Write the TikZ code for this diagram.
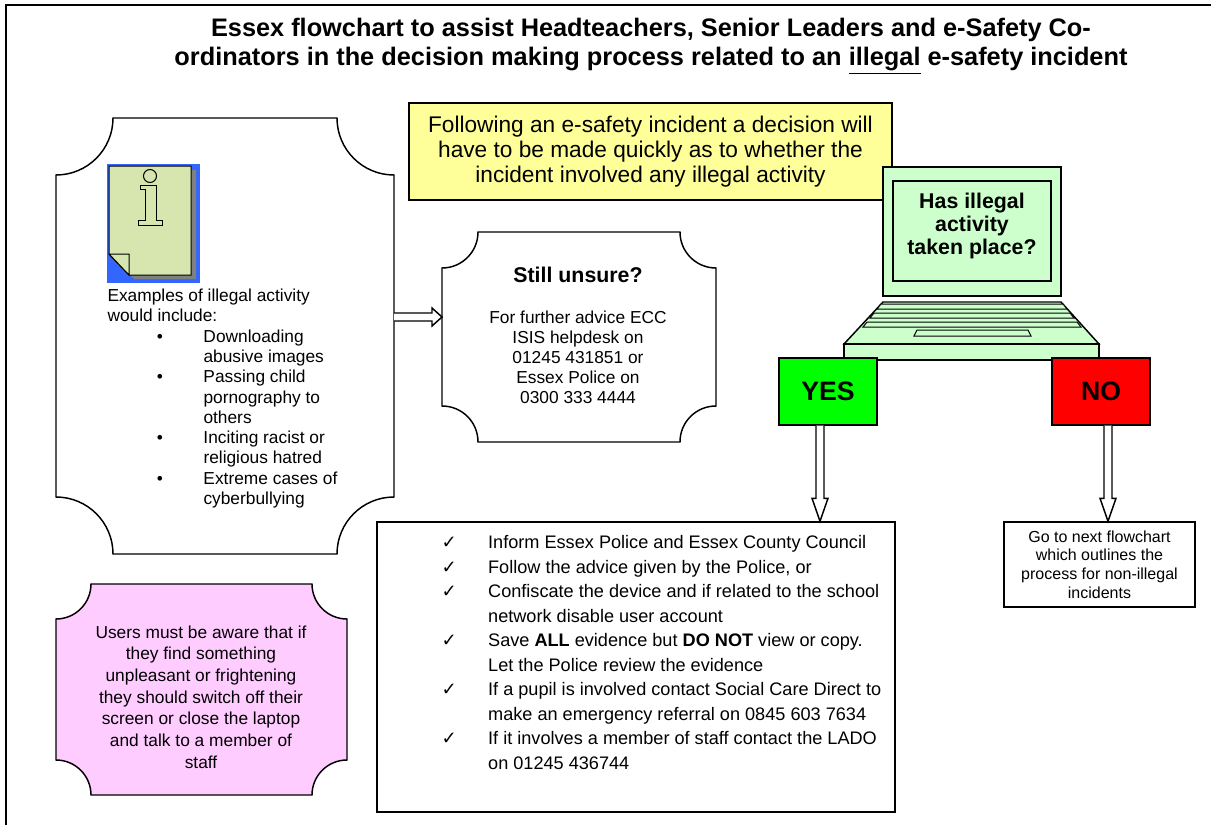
\documentclass[tikz,border=0pt]{standalone}
\usepackage{fontspec}
\setmainfont{Liberation Sans}
\newfontfamily\symfont{DejaVu Sans}
\usetikzlibrary{calc}

\definecolor{noteyellow}{HTML}{FFFF99}
\definecolor{laptopgreen}{HTML}{CCFFCC}
\definecolor{papergreen}{HTML}{D7E6AF}
\definecolor{iconblue}{HTML}{3366FF}
\definecolor{yesgreen}{HTML}{00FF00}
\definecolor{nored}{HTML}{FF0000}
\definecolor{warnpink}{HTML}{FFCCFF}

\tikzset{every picture/.style={line width=0.75pt}}
\tikzset{
  plainbox/.style={draw, line width=1.1pt, inner sep=0pt},
  answerbox/.style={plainbox, minimum width=73.5pt, minimum height=50.25pt, font=\bfseries\fontsize{20}{22}\selectfont},
  hollowarrow/.style={draw, fill=white, line width=1.1pt, line join=miter},
  outline/.style={draw, line width=1.1pt}
}

\begin{document}
\begin{tikzpicture}[x=0.75pt,y=0.75pt,yscale=-1,xscale=1]
	\useasboundingbox (0,0) rectangle (1211,825);

	%Shape: Frame
	\draw[line width=1.5pt] (6,825) -- (6,5) -- (1211,5);

	% Text Node
	\node[font=\bfseries\fontsize{19}{22}\selectfont, align=center] (title) at (651,46) {Essex flowchart to assist Headteachers, Senior Leaders and e-Safety Co-\\ordinators in the decision making process related to an \underline{illegal} e-safety incident};

	%Shape: Plaque [id:examples]
	\draw[outline] (113,118) -- (337,118) .. controls (337,149.5) and (362.5,175) .. (394,175) -- (394,497) .. controls (362.5,497) and (337,522.5) .. (337,554) -- (113,554) .. controls (113,522.5) and (87.5,497) .. (56,497) -- (56,175) .. controls (87.5,175) and (113,149.5) .. (113,118) -- cycle;

	%Shape: Info icon
	\fill[iconblue] (107,164) rectangle (200,283);
	\fill[gray] (114,170) -- (196,170) -- (196,279) -- (134,279) -- (114,258) -- cycle;
	\draw[fill=papergreen] (109,166) -- (191,166) -- (191,275) -- (129,275) -- (109,254) -- cycle;
	\draw[fill=papergreen] (109,254) -- (129,254) -- (129,275) -- cycle;
	\draw[fill=papergreen] (150,176) circle (6.5);
	\draw[fill=papergreen] (140,185) -- (156,185) -- (156,220) -- (162,220) -- (162,225) -- (138,225) -- (138,220) -- (145,220) -- (145,189) -- (140,189) -- cycle;

	% Text Node
	\node[anchor=north west, inner sep=0pt, font=\fontsize{13}{15.2}\selectfont] (examples) at (107,287) {\begin{tabular}{@{}p{72pt}@{}l@{}}
		\multicolumn{2}{@{}l@{}}{Examples of illegal activity}\\
		\multicolumn{2}{@{}l@{}}{would include:}\\
		\hspace*{37pt}• & Downloading\\
		 & abusive images\\
		\hspace*{37pt}• & Passing child\\
		 & pornography to\\
		 & others\\
		\hspace*{37pt}• & Inciting racist or\\
		 & religious hatred\\
		\hspace*{37pt}• & Extreme cases of\\
		 & cyberbullying
	\end{tabular}};

	%Shape: Plaque [id:unsure]
	\draw[outline] (478,232) -- (680,232) .. controls (680,251.9) and (696.1,268) .. (716,268) -- (716,406) .. controls (696.1,406) and (680,421.9) .. (680,442) -- (478,442) .. controls (478,421.9) and (461.9,406) .. (442,406) -- (442,268) .. controls (461.9,268) and (478,251.9) .. (478,232) -- cycle;
	% Text Node
	\node[font=\bfseries\fontsize{16}{18}\selectfont] (unsure) at (578,275) {Still unsure?};
	% Text Node
	\node[align=center, font=\fontsize{13}{15}\selectfont] (advice) at (578,357) {For further advice ECC\\ISIS helpdesk on\\01245 431851 or\\Essex Police on\\0300 333 4444};

	%Hollow arrow [examples -> unsure]
	\coordinate (leftside) at (394,317);
	\coordinate (unsureside) at (442,317);
	\draw[hollowarrow] ($(leftside)+(0,-4)$) -- ($(unsureside)+(-10,-4)$) -- ($(unsureside)+(-10,-9)$) -- (unsureside) -- ($(unsureside)+(-10,9)$) -- ($(unsureside)+(-10,4)$) -- ($(leftside)+(0,4)$);

	%Shape: Plaque [id:warning]
	\draw[outline, fill=warnpink] (91,584) -- (312,584) .. controls (312,603.3) and (327.7,619) .. (347,619) -- (347,760) .. controls (327.7,760) and (312,775.7) .. (312,795) -- (91,795) .. controls (91,775.7) and (75.3,760) .. (56,760) -- (56,619) .. controls (75.3,619) and (91,603.3) .. (91,584) -- cycle;
	% Text Node
	\node[align=center, font=\fontsize{13}{16.3}\selectfont] (warning) at (201,697) {Users must be aware that if\\they find something\\unpleasant or frightening\\they should switch off their\\screen or close the laptop\\and talk to a member of\\staff};

	% Text Node
	\node[plainbox, fill=noteyellow, minimum width=362.25pt, minimum height=72.75pt, align=center, font=\fontsize{17}{18.75}\selectfont] (intro) at (650.5,151.5) {Following an e-safety incident a decision will\\have to be made quickly as to whether the\\incident involved any illegal activity};

	%Shape: Laptop
	\draw[outline, fill=laptopgreen] (883,167) rectangle (1061,296);
	\draw[outline, fill=laptopgreen] (893,181) rectangle (1051,281);
	\draw[outline, fill=laptopgreen] (883,302) -- (1061,302) -- (1099,344) -- (844,344) -- cycle;
	\draw[outline, fill=laptopgreen] (844,344) rectangle (1099,360);
	\draw[fill=laptopgreen] (881,304) -- (1063,304) -- (1067,309) -- (877,309) -- cycle;
	\draw[fill=laptopgreen] (874,313) -- (1070,313) -- (1074,318) -- (870,318) -- cycle;
	\draw[fill=laptopgreen] (867,322) -- (1077,322) -- (1081,327) -- (863,327) -- cycle;
	\draw[fill=laptopgreen] (917,330) -- (1028,330) -- (1031,336) -- (914,336) -- cycle;
	% Text Node
	\node[align=center, font=\bfseries\fontsize{16}{17.6}\selectfont] (question) at (972,226) {Has illegal\\activity\\taken place?};

	% Answer Nodes
	\node[answerbox, fill=yesgreen] (yes) at (828,391.5) {YES};
	\node[answerbox, fill=nored] (no) at (1101,391.5) {NO};

	% Action box
	\node[plainbox, minimum width=388.5pt, minimum height=217.5pt] (actions) at (636,667) {};
	\node[anchor=north west, inner sep=0pt, font=\fontsize{13.6}{18.4}\selectfont] (actionlist) at (441,531) {\begin{tabular}{@{}p{35pt}@{}l@{}}
		{\symfont ✓} & Inform Essex Police and Essex County Council\\
		{\symfont ✓} & Follow the advice given by the Police, or\\
		{\symfont ✓} & Confiscate the device and if related to the school\\
		 & network disable user account\\
		{\symfont ✓} & Save \textbf{ALL} evidence but \textbf{DO NOT} view or copy.\\
		 & Let the Police review the evidence\\
		{\symfont ✓} & If a pupil is involved contact Social Care Direct to\\
		 & make an emergency referral on 0845 603 7634\\
		{\symfont ✓} & If it involves a member of staff contact the LADO\\
		 & on 01245 436744
	\end{tabular}};

	% Next flowchart box
	\node[plainbox, minimum width=143.25pt, minimum height=63.75pt, align=center, font=\fontsize{12}{14}\selectfont] (nextchart) at (1099.5,564.5) {Go to next flowchart\\which outlines the\\process for non-illegal\\incidents};

	%Hollow arrow [yes -> actions]
	\coordinate (yesfoot) at ($(yes.south)+(-8,0)$);
	\coordinate (yestip) at (yesfoot |- actions.north);
	\draw[hollowarrow] ($(yesfoot)+(-4,0)$) -- ($(yestip)+(-4,-23)$) -- ($(yestip)+(-8,-23)$) -- (yestip) -- ($(yestip)+(8,-23)$) -- ($(yestip)+(4,-23)$) -- ($(yesfoot)+(4,0)$);

	%Hollow arrow [no -> nextchart]
	\coordinate (nofoot) at ($(no.south)+(7,0)$);
	\coordinate (notip) at (nofoot |- nextchart.north);
	\draw[hollowarrow] ($(nofoot)+(-4,0)$) -- ($(notip)+(-4,-23)$) -- ($(notip)+(-8,-23)$) -- (notip) -- ($(notip)+(8,-23)$) -- ($(notip)+(4,-23)$) -- ($(nofoot)+(4,0)$);

\end{tikzpicture}
\end{document}
